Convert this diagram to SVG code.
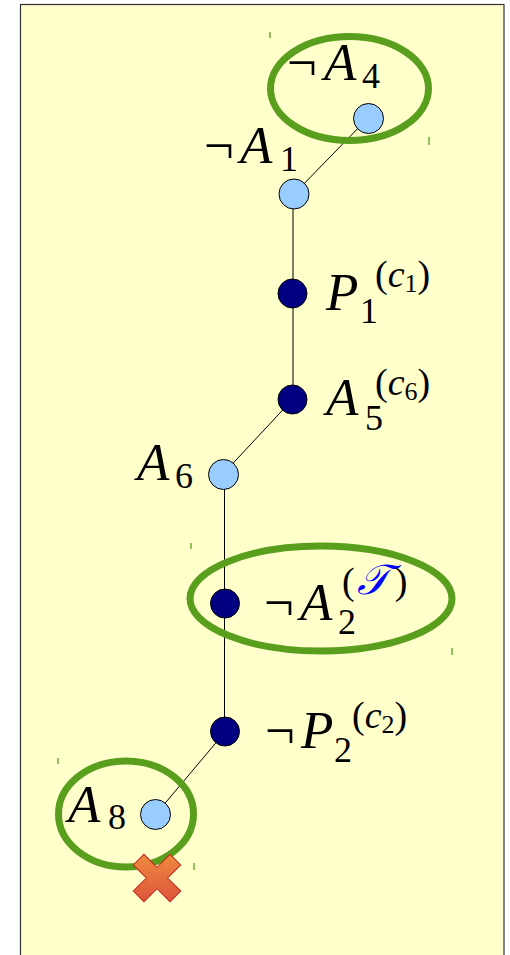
<svg xmlns="http://www.w3.org/2000/svg" width="510" height="955" viewBox="0 0 510 955">
<defs>
<linearGradient id="xg" x1="0" y1="0" x2="1" y2="1">
<stop offset="0" stop-color="#F39A40"/>
<stop offset="1" stop-color="#D8453A"/>
</linearGradient>
<style>
.lt{fill:#99CCFF;stroke:#000;stroke-width:1}
.dk{fill:#000080;stroke:#000;stroke-width:1}
.ell{fill:none;stroke:#5A9E1E;stroke-width:7}
.edge{stroke:#000;stroke-width:1;fill:none}
.tick{stroke:#5A9E1E;stroke-width:1.3}
.big{font-size:53px}
.sub{font-size:36px}
.sup{font-size:38px}
.ss{font-size:26px}
.it{font-style:italic}
</style>
</defs>
<rect x="0" y="0" width="510" height="955" fill="#fff"/>
<rect x="20.5" y="4.5" width="483.5" height="960" fill="#FFFFCC" stroke="#333" stroke-width="1.2"/>
<g id="ticks">
<line class="tick" x1="270" y1="32" x2="270" y2="38"/>
<line class="tick" x1="429" y1="137" x2="429" y2="145"/>
<line class="tick" x1="191" y1="543" x2="191" y2="549"/>
<line class="tick" x1="452" y1="648" x2="452" y2="655"/>
<line class="tick" x1="58" y1="758" x2="58" y2="764"/>
<line class="tick" x1="194" y1="863" x2="194" y2="870"/>
</g>
<g id="connectors">
<line class="edge" x1="368" y1="118" x2="294" y2="194"/>
<line class="edge" x1="293" y1="194" x2="293" y2="399"/>
<line class="edge" x1="293" y1="399" x2="223" y2="474"/>
<line class="edge" x1="224.5" y1="474" x2="224.5" y2="732"/>
<line class="edge" x1="225" y1="732" x2="156" y2="814"/>
</g>
<g fill="#000" font-family="'Liberation Serif', 'Times New Roman', serif">
<g id="nA4">
<circle class="lt" cx="368.5" cy="118.5" r="15"/>
<text class="big" x="287" y="80">¬<tspan class="it" x="324">A</tspan><tspan class="sub" x="362" y="88">4</tspan></text>
</g>
<g id="nA1">
<circle class="lt" cx="294" cy="194" r="15"/>
<text class="big" x="204" y="163">¬<tspan class="it" x="240">A</tspan><tspan class="sub" x="280" y="171">1</tspan></text>
</g>
<g id="P1">
<circle class="dk" cx="292.5" cy="293.5" r="14.5"/>
<text class="big it" x="326" y="310">P<tspan class="sub" style="font-style:normal" x="360" y="323">1</tspan></text>
<text class="sup" x="375" y="287">(<tspan class="it">c</tspan><tspan class="ss" dy="5">1</tspan><tspan dy="-5">)</tspan></text>
</g>
<g id="A5">
<circle class="dk" cx="292.5" cy="399.5" r="14.5"/>
<text class="big it" x="326" y="415">A<tspan class="sub" style="font-style:normal" x="365" y="430">5</tspan></text>
<text class="sup" x="375" y="395">(<tspan class="it">c</tspan><tspan class="ss" dy="5">6</tspan><tspan dy="-5">)</tspan></text>
</g>
<g id="A6">
<circle class="lt" cx="223.5" cy="474.5" r="15"/>
<text class="big it" x="137" y="480">A<tspan class="sub" style="font-style:normal" x="175" y="488">6</tspan></text>
</g>
<g id="nA2">
<ellipse class="ell" cx="321" cy="598.5" rx="131" ry="52.5"/>
<circle class="dk" cx="225" cy="603.5" r="14.5"/>
<text class="big" x="264" y="620">¬<tspan class="it" x="300">A</tspan><tspan class="sub" x="338" y="634">2</tspan></text>
<text class="sup" x="342" y="594">(<tspan class="it" fill="#0000FF" font-size="42" dx="2">𝒯</tspan><tspan dx="6">)</tspan></text>
</g>
<g id="nP2">
<circle class="dk" cx="225" cy="731.5" r="14.5"/>
<text class="big" x="265" y="748">¬<tspan class="it" x="301">P</tspan><tspan class="sub" x="334" y="762">2</tspan></text>
<text class="sup" x="352" y="728">(<tspan class="it">c</tspan><tspan class="ss" dy="5">2</tspan><tspan dy="-5">)</tspan></text>
</g>
<g id="A8">
<circle class="lt" cx="155.5" cy="814.5" r="15"/>
<text class="big it" x="68" y="822">A<tspan class="sub" style="font-style:normal" x="108" y="829">8</tspan></text>
</g>
</g>
<ellipse class="ell" cx="349.5" cy="88.5" rx="79" ry="52"/>
<ellipse class="ell" cx="126" cy="814" rx="67.5" ry="53"/>
<g id="cross" transform="translate(157,878) rotate(45)">
<path d="M-7.5,-26 L7.5,-26 L7.5,-7.5 L26,-7.5 L26,7.5 L7.5,7.5 L7.5,26 L-7.5,26 L-7.5,7.5 L-26,7.5 L-26,-7.5 L-7.5,-7.5 Z" fill="url(#xg)" stroke="#C8281E" stroke-width="1"/>
</g>
</svg>
